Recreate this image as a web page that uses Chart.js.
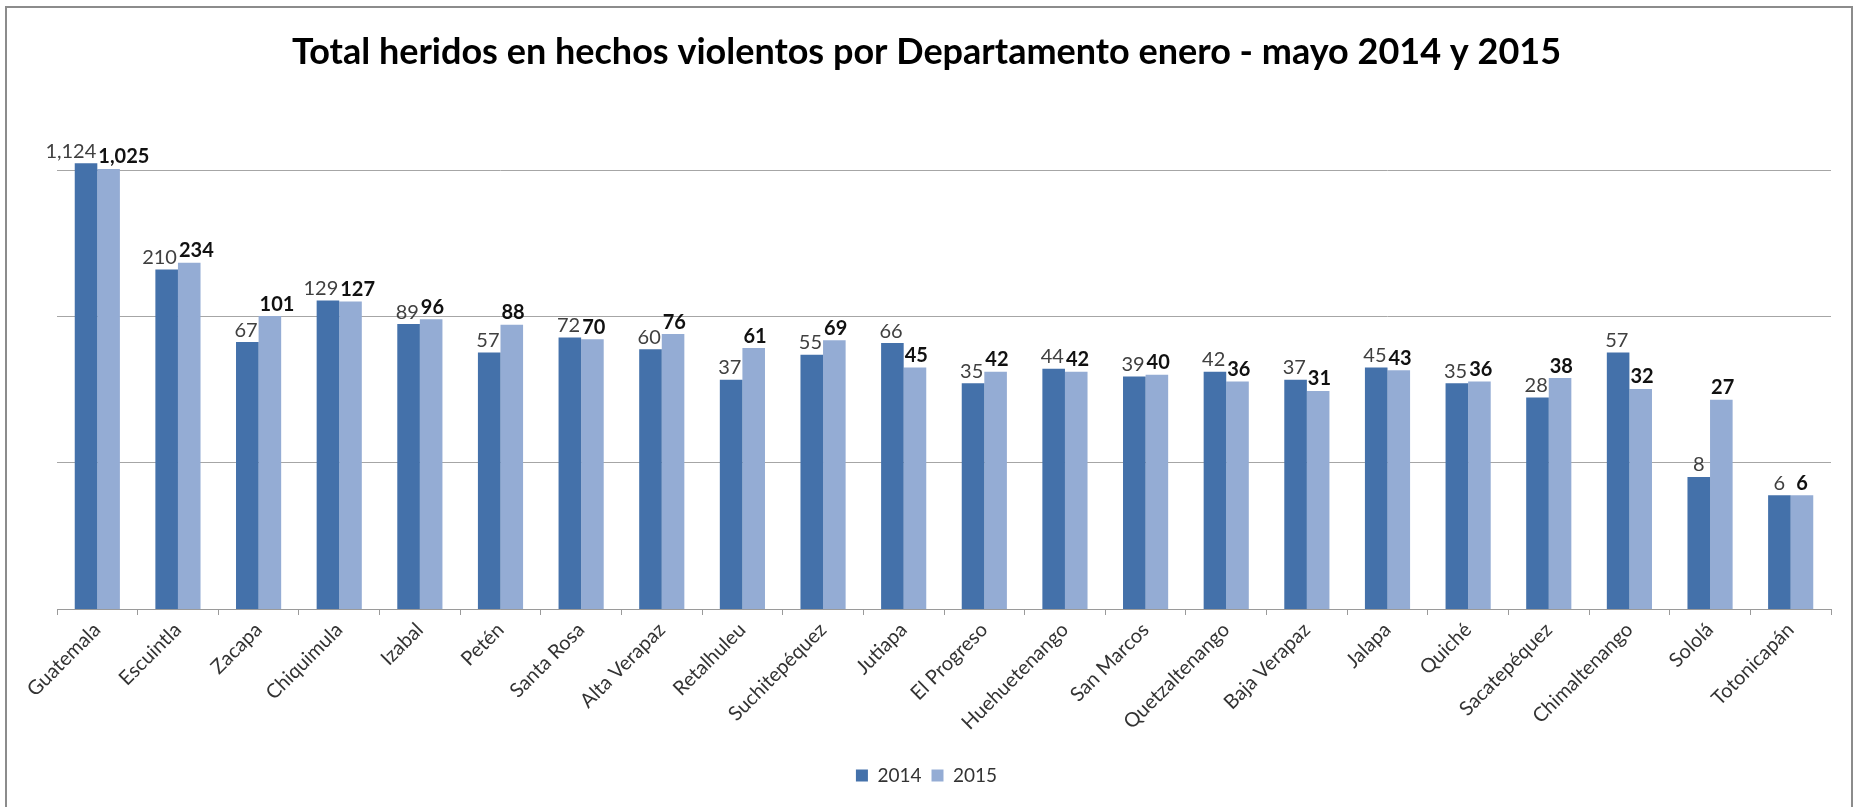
<!DOCTYPE html>
<html>
<head>
<meta charset="utf-8">
<title>Total heridos en hechos violentos por Departamento</title>
<script src="https://cdn.jsdelivr.net/npm/chart.js@4"></script>
<style>
  html, body { margin: 0; padding: 0; background: #fff; overflow: hidden; }
  #wrap { position: relative; width: 1853px; height: 807px; }
  #frame {
    position: absolute; left: 5px; top: 6px; width: 1844px; height: 900px;
    border: 2px solid #8c8c8c; pointer-events: none;
  }
</style>
</head>
<body>
<div id="wrap">
  <canvas id="chart" width="1853" height="807"></canvas>
  <div id="frame"></div>
</div>
<script>
// Datos
const departamentos = ['Guatemala', 'Escuintla', 'Zacapa', 'Chiquimula', 'Izabal', 'Petén',
  'Santa Rosa', 'Alta Verapaz', 'Retalhuleu', 'Suchitepéquez', 'Jutiapa', 'El Progreso',
  'Huehuetenango', 'San Marcos', 'Quetzaltenango', 'Baja Verapaz', 'Jalapa', 'Quiché',
  'Sacatepéquez', 'Chimaltenango', 'Sololá', 'Totonicapán'];
const heridos2014 = [1124, 210, 67, 129, 89, 57, 72, 60, 37, 55, 66, 35, 44, 39, 42, 37, 45, 35, 28, 57, 8, 6];
const heridos2015 = [1025, 234, 101, 127, 96, 88, 70, 76, 61, 69, 45, 42, 42, 40, 36, 31, 43, 36, 38, 32, 27, 6];
const seriesNames = ['2014', '2015'];
const gridValues = [1, 10, 100, 1000];

const FONT = 'Lato, "Open Sans", sans-serif';

// etiquetas encima de cada barra
const valueLabels = {
  id: 'valueLabels',
  afterDatasetsDraw(chart) {
    const ctx = chart.ctx;
    ctx.save();
    ctx.textBaseline = 'bottom';
    ctx.textAlign = 'center';
    chart.data.datasets.forEach((ds, di) => {
      const meta = chart.getDatasetMeta(di);
      ctx.font = (di === 1 ? 'bold ' : '') + '20px ' + FONT;
      ctx.fillStyle = di === 1 ? '#111' : '#404040';
      meta.data.forEach((bar, i) => {
        const txt = ds.data[i].toLocaleString('en-US');
        const w = ctx.measureText(txt).width;
        let x = bar.x;
        if (di === 0) x = Math.min(bar.x, bar.x + bar.width / 2 - 1 - w / 2);
        else x = Math.max(bar.x, bar.x - bar.width / 2 + 1 + w / 2);
        ctx.fillText(txt, x, bar.y - 2);
      });
    });
    ctx.restore();
  }
};

new Chart(document.getElementById('chart'), {
  type: 'bar',
  data: {
    labels: departamentos,
    datasets: [
      { label: seriesNames[0], data: heridos2014, backgroundColor: '#4471aa' },
      { label: seriesNames[1], data: heridos2015, backgroundColor: '#94acd4' }
    ]
  },
  options: {
    responsive: false,
    animation: false,
    categoryPercentage: 0.56,
    barPercentage: 1,
    layout: { padding: { left: 22, right: 22, bottom: 12 } },
    plugins: {
      title: {
        display: true,
        text: 'Total heridos en hechos violentos por Departamento enero - mayo 2014 y 2015',
        color: '#000',
        font: { family: FONT, size: 36, weight: 'bold' },
        padding: { top: 31, bottom: 75 }
      },
      legend: {
        position: 'bottom',
        labels: {
          color: '#333',
          font: { family: FONT, size: 19 },
          boxWidth: 12,
          boxHeight: 12,
          padding: 10
        }
      },
      tooltip: { enabled: false }
    },
    scales: {
      x: {
        grid: { display: true, drawOnChartArea: false, drawTicks: true, tickLength: 6, color: '#9a9a9a' },
        border: { display: true, color: '#9a9a9a' },
        ticks: {
          color: '#333',
          font: { family: FONT, size: 20 },
          minRotation: 45,
          maxRotation: 45,
          autoSkip: false
        },
        afterFit(scale) { scale.height = 147; }
      },
      y: {
        type: 'logarithmic',
        min: 1,
        max: 1400,
        afterBuildTicks(scale) {
          scale.ticks = gridValues.map(v => ({ value: v }));
        },
        afterFit(scale) { scale.width = 35; },
        grid: { color: '#a6a6a6', drawTicks: false },
        border: { display: false },
        ticks: { display: false }
      }
    }
  },
  plugins: [valueLabels]
});
</script>
</body>
</html>
